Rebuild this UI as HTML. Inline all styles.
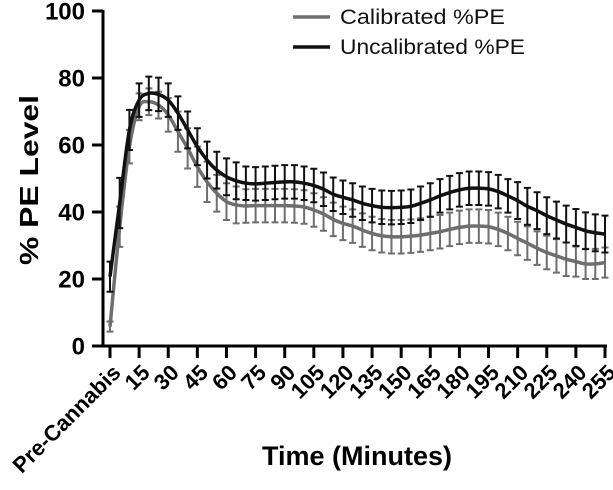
<!DOCTYPE html>
<html><head><meta charset="utf-8"><style>
html,body{margin:0;padding:0;background:#fff}
svg{display:block;font-family:"Liberation Sans",Arial,sans-serif}
</style></head><body>
<svg id="chart" width="613" height="490" viewBox="0 0 613 490">
<g id="grid"></g>
</svg>
<script>
const tickLabels = ["Pre-Cannabis","15","30","45","60","75","90","105","120","135","150","165","180","195","210","225","240","255"];
const yTicks = [0,20,40,60,80,100];
const uncalMean = [20.7,42.7,64.5,73.4,75.4,75.1,73.4,69.5,64.5,59.5,55.5,52.5,50.5,49.3,48.6,48.4,48.6,48.8,49.0,49.0,48.6,47.9,46.8,45.3,44.4,43.6,42.6,41.9,41.4,41.3,41.4,41.7,42.6,43.6,44.8,45.8,46.6,47.1,47.1,46.9,46.1,44.8,43.4,41.7,40.4,38.9,37.6,36.4,35.4,34.4,33.8,33.4];
const uncalErr = [4.5,7.5,6,5,5,5,5,5,5.5,5.5,5.5,5.5,5.5,5.5,5,5,5,5,5,5,5,5,5,5,5,5,5,5,5,5,5,5,5,5,5,5,5,5,5,5,5,5,5.5,5.5,5.5,5.5,5.5,5.5,5.5,5.5,5.5,5.5];
const calMean = [5.8,35.6,59.5,71.4,72.9,71.9,69.0,64.0,59.0,53.5,49.0,45.6,43.1,42.1,41.8,41.9,41.9,41.9,41.9,41.8,41.5,40.6,39.4,37.8,36.6,35.8,34.6,33.6,32.9,32.6,32.6,32.8,33.1,33.6,34.1,34.8,35.4,35.8,35.8,35.6,34.8,33.6,32.1,30.7,29.2,27.9,26.9,25.9,25.2,24.5,24.5,24.9];
const calErr = [1.5,6,5,4,4,4,5,6,6,6,6,5.5,5.5,5.5,5,5,5,5,5,5,5,5,5,5,5,5,5,5,5,5,5,5,5,5,5,5,5,5,5,5,5,5,5,5,5,5,5,5,4.5,4.5,4.5,4.5];

const svg = document.getElementById('chart');
const NS = 'http://www.w3.org/2000/svg';
const X0 = 110, X1 = 605, Y0 = 346, Y100 = 11;
const nPts = uncalMean.length;
const xPt = i => X0 + (X1 - X0) * i / (nPts - 1);
const xTick = i => X0 + (X1 - X0) * i / (tickLabels.length - 1);
const y = v => Y0 - (Y0 - Y100) * v / 100;
function mk(tag, attrs, parent) {
  const e = document.createElementNS(NS, tag);
  for (const k in attrs) e.setAttribute(k, attrs[k]);
  (parent || svg).appendChild(e);
  return e;
}
const yAxis = mk('line', {x1:103,y1:Y100-1,x2:103,y2:Y0+1.5,stroke:'#000','stroke-width':3});


const xAxis = mk('line', {x1:101.5,y1:Y0,x2:X1+2,y2:Y0,stroke:'#000','stroke-width':3});


yTicks.forEach(v => {
  const t = mk('line', {x1:92,y1:y(v),x2:103,y2:y(v),stroke:'#000','stroke-width':3});
  
  
  const l = mk('text', {x:85,y:y(v)+8.5,'text-anchor':'end','font-size':24,'font-weight':'bold'});
  l.textContent = v;
  
  
});
tickLabels.forEach((s, i) => {
  const x = xTick(i);
  const t = mk('line', {x1:x,y1:Y0,x2:x,y2:Y0+12,stroke:'#000','stroke-width':3});
  
  
  const l = mk('text', {x:0,y:0,'text-anchor':'end','font-size':22,'font-weight':'bold',transform:`translate(${x+12},${Y0+28}) rotate(-45)`});
  l.textContent = s;
  
  
});
const yt = mk('text', {x:0,y:0,'text-anchor':'middle','font-size':26,'font-weight':'bold',textLength:170,lengthAdjust:'spacingAndGlyphs',transform:'translate(38,180) rotate(-90)'});
yt.textContent = '% PE Level';


const xt = mk('text', {x:357,y:465,'text-anchor':'middle','font-size':27,'font-weight':'bold',textLength:190,lengthAdjust:'spacingAndGlyphs'});
xt.textContent = 'Time (Minutes)';



function series(mean, err, color, name) {
  const g = mk('g', {});
  
  
  mean.forEach((m, i) => {
    const x = xPt(i), t = y(m + err[i]), b = y(m - err[i]);
    const p = mk('path', {d:`M${x},${t}V${b}M${x-3.5},${t}H${x+3.5}M${x-3.5},${b}H${x+3.5}`,stroke:color,'stroke-width':2,fill:'none'}, g);
    
    
  });
  const pts = mean.map((m, i) => [xPt(i), y(m)]);
  let d = `M${pts[0][0]},${pts[0][1]}`;
  for (let i = 0; i < pts.length - 1; i++) {
    const p0 = pts[Math.max(0, i-1)], p1 = pts[i], p2 = pts[i+1], p3 = pts[Math.min(pts.length-1, i+2)];
    d += `C${p1[0]+(p2[0]-p0[0])/6},${p1[1]+(p2[1]-p0[1])/6} ${p2[0]-(p3[0]-p1[0])/6},${p2[1]-(p3[1]-p1[1])/6} ${p2[0]},${p2[1]}`;
  }
  const line = mk('path', {d, stroke:color, 'stroke-width':3.5, fill:'none','stroke-linejoin':'round'}, g);
  
  
}
series(calMean, calErr, '#6e6e6e', 'calibrated-series');
series(uncalMean, uncalErr, '#111', 'uncalibrated-series');

const leg = mk('g', {});


[['Calibrated %PE','#6e6e6e',17,165],['Uncalibrated %PE','#111',47,185]].forEach(([t,c,yy,w]) => {
  const e = mk('g', {}, leg);
  
  
  mk('line', {x1:293,y1:yy,x2:330,y2:yy,stroke:c,'stroke-width':3.5}, e);
  const tx = mk('text', {x:340,y:yy+7,'font-size':21,fill:'#111',textLength:w,lengthAdjust:'spacingAndGlyphs'}, e);
  tx.textContent = t;
});
</script>
</body></html>
